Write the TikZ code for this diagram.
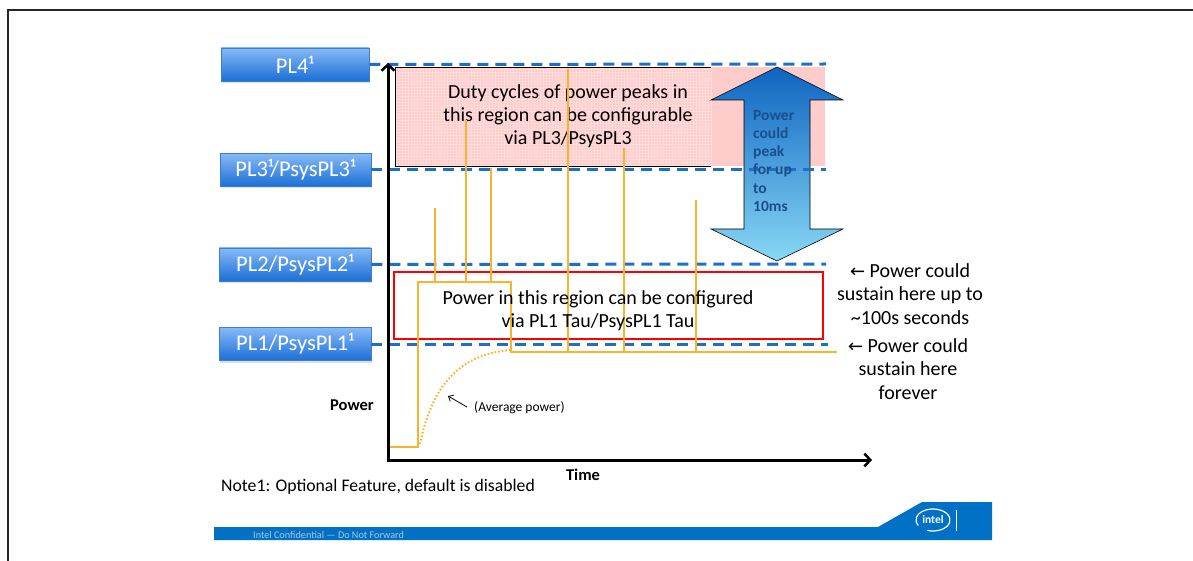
\documentclass[tikz,border=0pt]{standalone}
\usepackage{fontspec}
\setmainfont{Carlito}
\newfontfamily\arrfont{DejaVu Sans}
\usetikzlibrary{arrows.meta,shadows}
\definecolor{intelblue}{HTML}{0071C5}
\definecolor{dashblue}{HTML}{1F6FC5}
\definecolor{sigorange}{HTML}{F7B42C}
\definecolor{pinkfill}{HTML}{FFCCCC}
\definecolor{boxtop}{HTML}{86B9F6}
\definecolor{boxbot}{HTML}{1B6FD6}
\definecolor{boxedge}{HTML}{3A7FD2}
\definecolor{arrtop}{HTML}{0E64C0}
\definecolor{arrmid}{HTML}{82CBEE}
\definecolor{arrbot}{HTML}{88D8F5}
\definecolor{peaktext}{HTML}{1A4E8C}
\definecolor{conftext}{HTML}{A9C8EA}
\tikzset{
  plbox/.style={rectangle, minimum width=150, minimum height=33, inner sep=0pt,
    top color=boxtop, bottom color=boxbot, draw=boxedge, line width=0.6,
    text=white, font=\fontsize{22.5}{24}\selectfont,
    drop shadow={shadow xshift=1pt, shadow yshift=-2pt, opacity=0.25}},
  pldash/.style={dashblue, line width=3, dash pattern=on 11pt off 7pt},
  axisline/.style={black, line width=3, -{Straight Barb[length=6pt,width=13pt,line width=2.5pt]}},
  sig/.style={sigorange, line width=2.4},
  bodytext/.style={font=\fontsize{20}{23}\selectfont, align=center, inner sep=0pt},
  sidetext/.style={font=\fontsize{20}{23.5}\selectfont, align=center, inner sep=0pt},
  boldlbl/.style={font=\bfseries\fontsize{16.5}{19}\selectfont, inner sep=0pt}
}
\begin{document}
\begin{tikzpicture}[x=1pt,y=-1pt]
\useasboundingbox (0,0) rectangle (1193,561);
\fill[white] (0,0) rectangle (1193,561);
% frame
\draw[black!85, line width=2] (8,561) -- (8,10) -- (1193,10);

% pink region
\fill[pinkfill] (395,67) rectangle (825,166);
\draw[white, opacity=0.3, line width=0.4, step=3pt] (395,67) grid (711,166);
\draw[black, line width=0.8] (711,67) -- (395,67) -- (395,166) -- (711,166);
\node[bodytext] (dutytxt) at (568,116) {Duty cycles of power peaks in\\this region can be configurable\\via PL3/PsysPL3};

% double arrow
\path[draw=black, line width=0.6, top color=arrtop, middle color=arrmid, bottom color=arrbot]
  (777,67) -- (843,100) -- (810,100) -- (810,229) -- (843,229) -- (777,261)
  -- (711,229) -- (744,229) -- (744,100) -- (711,100) -- cycle;

% red region
\node[draw=red, line width=2.8, minimum width=429, minimum height=67, inner sep=0pt] (redbox) at (608.5,305.5) {};

% label boxes
\node[plbox, minimum width=148] (pl4) at (295,64.5) {PL4¹};
\node[plbox, minimum width=151] (pl3) at (295.5,170) {PL3¹/PsysPL3¹};
\node[plbox, minimum width=152] (pl2) at (295,264.5) {PL2/PsysPL2¹};
\node[plbox, minimum width=152] (pl1) at (295,344) {PL1/PsysPL1¹};

% dashed limit lines
\coordinate (e4) at (826,64);
\coordinate (e3) at (826,170);
\coordinate (e2) at (826,264);
\coordinate (e1) at (828,344);
\draw[pldash] (pl4.east) -- (e4);
\draw[pldash] (pl3.east) -- (e3);
\draw[pldash] (pl2.east) -- (e2);
\draw[pldash] (pl1.east) -- (e1);

% text in the arrow
\node[font=\bfseries\fontsize{15.5}{18.2}\selectfont, text=peaktext, align=left, anchor=north west, inner sep=0pt]
  (peaktxt) at (753,110) {Power\\could\\peak\\for up\\to\\10ms};

% power signal
\draw[sig] (389,447) -- (418,447) -- (418,282) -- (511,282) -- (511,352) -- (837,352);
\foreach \x/\ya/\yb in {435/208/282, 466/120/282, 491/168/282, 568/69/352, 624/148/352, 696/200/352}
  \draw[sig] (\x,\ya) -- (\x,\yb);
\draw[sig, line width=2, dash pattern=on 1.6pt off 2pt] (420,444) .. controls (432,385) and (460,354) .. (511,350);

% text in red region
\node[bodytext] (pl1txt) at (598,311) {Power in this region can be configured\\via PL1 Tau/PsysPL1 Tau};

% axes
\coordinate (origin) at (388,460);
\coordinate (ytop) at (388,63);
\coordinate (xend) at (872,460);
\draw[black, line width=3] (388,461.5) -- (origin);
\draw[axisline] (origin) -- (ytop);
\draw[axisline] (386.5,460) -- (xend);

% labels
\node[boldlbl] (powerlbl) at (352,405) {Power};
\node[boldlbl] (timelbl) at (583,475) {Time};
\node[font=\fontsize{13.5}{15}\selectfont, anchor=west, inner sep=0pt] (avg) at (474,408) {(Average power)};
\coordinate (avgtail) at (467,407);
\coordinate (avgtip) at (448,396);
\draw[black, line width=0.8, -{Straight Barb[length=4pt,width=7pt]}] (avgtail) -- (avgtip);
\node[font=\fontsize{17.7}{20}\selectfont, anchor=west, inner sep=0pt] (note) at (221,487) {Note1: Optional Feature, default is disabled};

\node[sidetext] (sus1) at (910,294) {{\arrfont\fontsize{18}{20}\selectfont ←} Power could\\sustain here up to\\\textasciitilde100s seconds};
\node[sidetext] (sus2) at (908,369) {{\arrfont\fontsize{18}{20}\selectfont ←} Power could\\sustain here\\forever};

% footer
\fill[intelblue] (214,527) -- (878,527) -- (922,502) -- (992,502) -- (992,540) -- (214,540) -- cycle;
\node[text=conftext, font=\fontsize{10.2}{11}\selectfont, anchor=west, inner sep=0pt] (conf) at (253,534.5) {Intel Confidential — Do Not Forward};
\node[text=white, font=\bfseries\fontsize{11.5}{12}\selectfont, inner sep=0pt] (intellogo) at (933,520) {intel};
\draw[white, line width=1.2] (933,520) ++(150:17 and 11) arc[start angle=150, end angle=470, x radius=17, y radius=11];
\draw[white, line width=0.8] (956,510) -- (956,531);
\end{tikzpicture}
\end{document}
